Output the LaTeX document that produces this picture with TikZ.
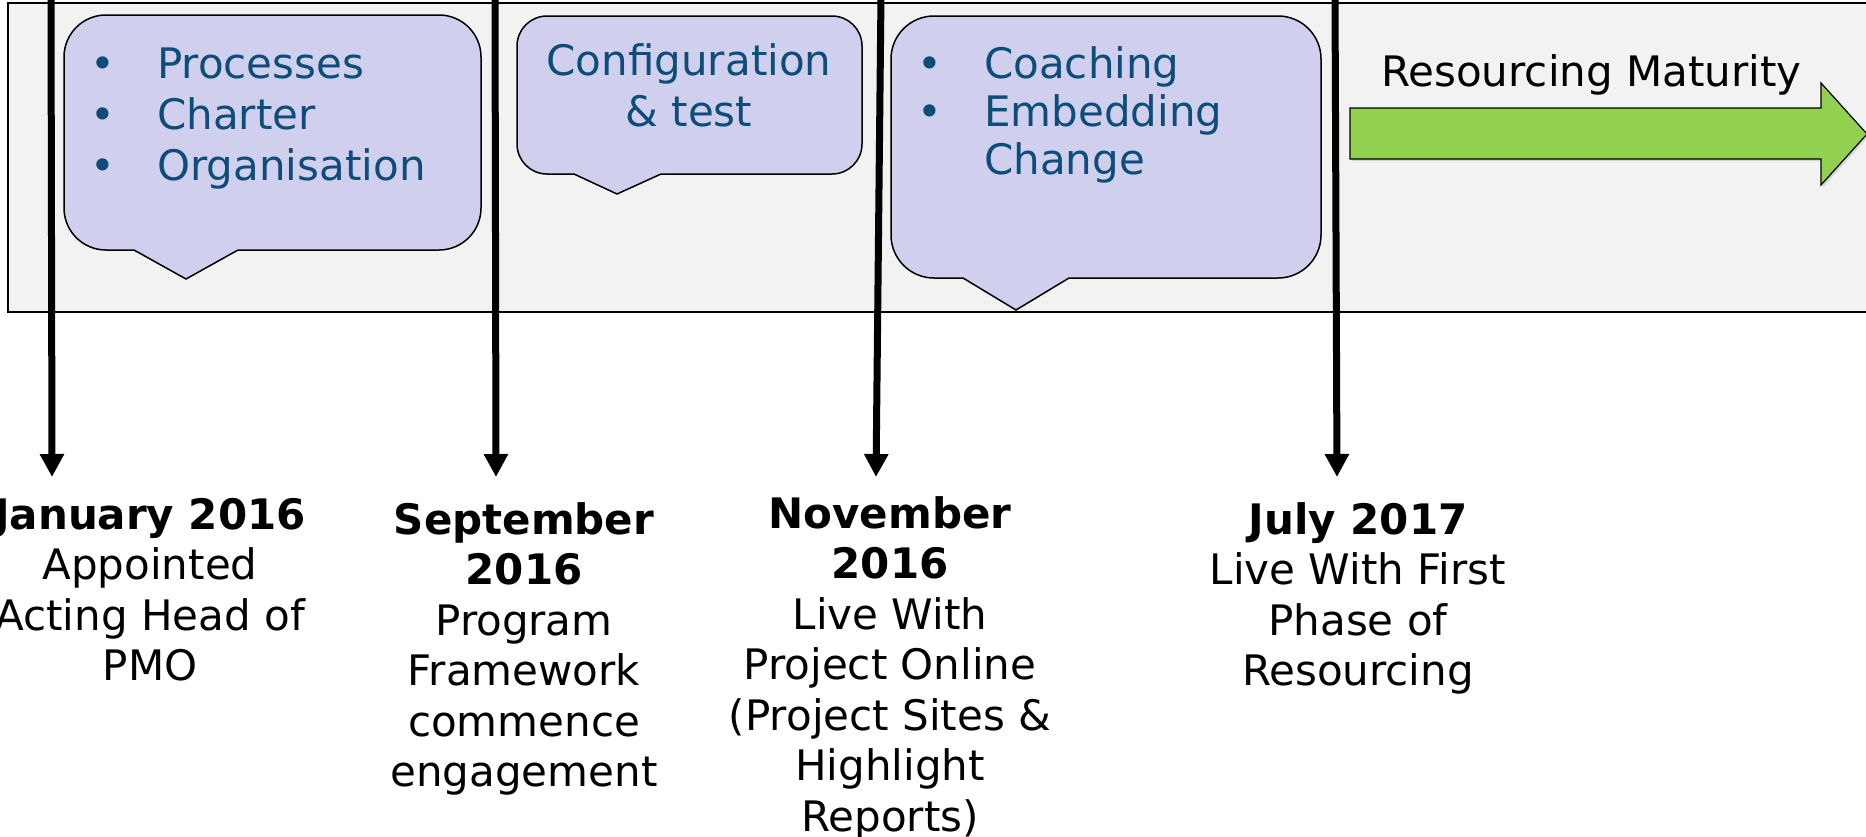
\documentclass[tikz,border=0pt]{standalone}
\usepackage{fontspec}
\setmainfont{DejaVu Sans}
\usetikzlibrary{arrows.meta,shadows}
\definecolor{bandgray}{RGB}{242,242,242}
\definecolor{bubfill}{RGB}{208,208,238}
\definecolor{bubblue}{RGB}{14,76,122}
\definecolor{arrgreen}{RGB}{146,208,80}
\newcommand\itm{\leavevmode\llap{\makebox[108pt]{•}}}
\tikzset{
  bubble/.style={fill=bubfill, draw=black, line width=1.5pt, rounded corners=#1},
  bubtext/.style={text=bubblue, inner sep=0pt, font=\fontsize{42}{51}\selectfont},
  milestone/.style={line width=7pt, -{Triangle[width=23pt,length=23pt]}},
  datetext/.style={anchor=north, align=center, inner sep=0pt, font=\fontsize{42}{50.5}\selectfont}
}
\begin{document}
\begin{tikzpicture}[x=1pt,y=-1pt]
\useasboundingbox (0,0) rectangle (1866,836);
\clip (0,0) rectangle (1866,836);
% band
\draw[fill=bandgray, line width=1.5pt] (8,3) rectangle (1880,312);
% milestone lines
\coordinate (t1) at (51,-5);   \coordinate (e1) at (52,477);
\coordinate (t2) at (495,-5);  \coordinate (e2) at (496,477);
\coordinate (t3) at (881,-5);  \coordinate (e3) at (876,477);
\coordinate (t4) at (1335,-5); \coordinate (e4) at (1337,477);
\draw[milestone] (t1) -- (e1);
\draw[milestone] (t2) -- (e2);
\draw[milestone] (t3) -- (e3);
\draw[milestone] (t4) -- (e4);
% callouts
\draw[bubble=42pt] (238,250) -- (481,250) -- (481,15) -- (64,15) -- (64,250) [sharp corners] -- (134,250) -- (186,279) -- cycle;
\draw[bubble=30pt] (661,174) -- (862,174) -- (862,16) -- (517,16) -- (517,174) [sharp corners] -- (574,174) -- (617,194) -- cycle;
\draw[bubble=43pt] (1069,278) -- (1321,278) -- (1321,16) -- (891,16) -- (891,278) [sharp corners] -- (963,278) -- (1016,310) -- cycle;
\node[bubtext, anchor=north west, align=left] (p1) at (157,48) {\itm Processes\\ \itm Charter\\ \itm Organisation};
\node[bubtext, anchor=north, align=center] (p2) at (689,43) {Configuration\\ \& test};
\node[bubtext, anchor=north west, align=left, font=\fontsize{42}{48}\selectfont] (p3) at (984,46) {\itm Coaching\\ \itm Embedding\\ Change};
% resourcing arrow
\draw[fill=arrgreen, line width=1.2pt, drop shadow={opacity=0.25, shadow xshift=2pt, shadow yshift=-2pt}]
  (1350,108) -- (1821,108) -- (1821,83) -- (1867,134) -- (1821,185) -- (1821,159) -- (1350,159) -- cycle;
\node[inner sep=0pt, anchor=base west, font=\fontsize{42}{51}\selectfont] (rm) at (1381,86) {Resourcing Maturity};
% dates
\node[datetext] (d1) at (150,498) {\textbf{January 2016}\\ Appointed\\ Acting Head of\\ PMO};
\node[datetext] (d2) at (524,502) {\textbf{September}\\ \textbf{2016}\\ Program\\ Framework\\ commence\\ engagement};
\node[datetext] (d3) at (890,496) {\textbf{November}\\ \textbf{2016}\\ Live With\\ Project Online\\ (Project Sites \&\\ Highlight\\ Reports)};
\node[datetext] (d4) at (1358,502) {\textbf{July 2017}\\ Live With First\\ Phase of\\ Resourcing};
\end{tikzpicture}
\end{document}
